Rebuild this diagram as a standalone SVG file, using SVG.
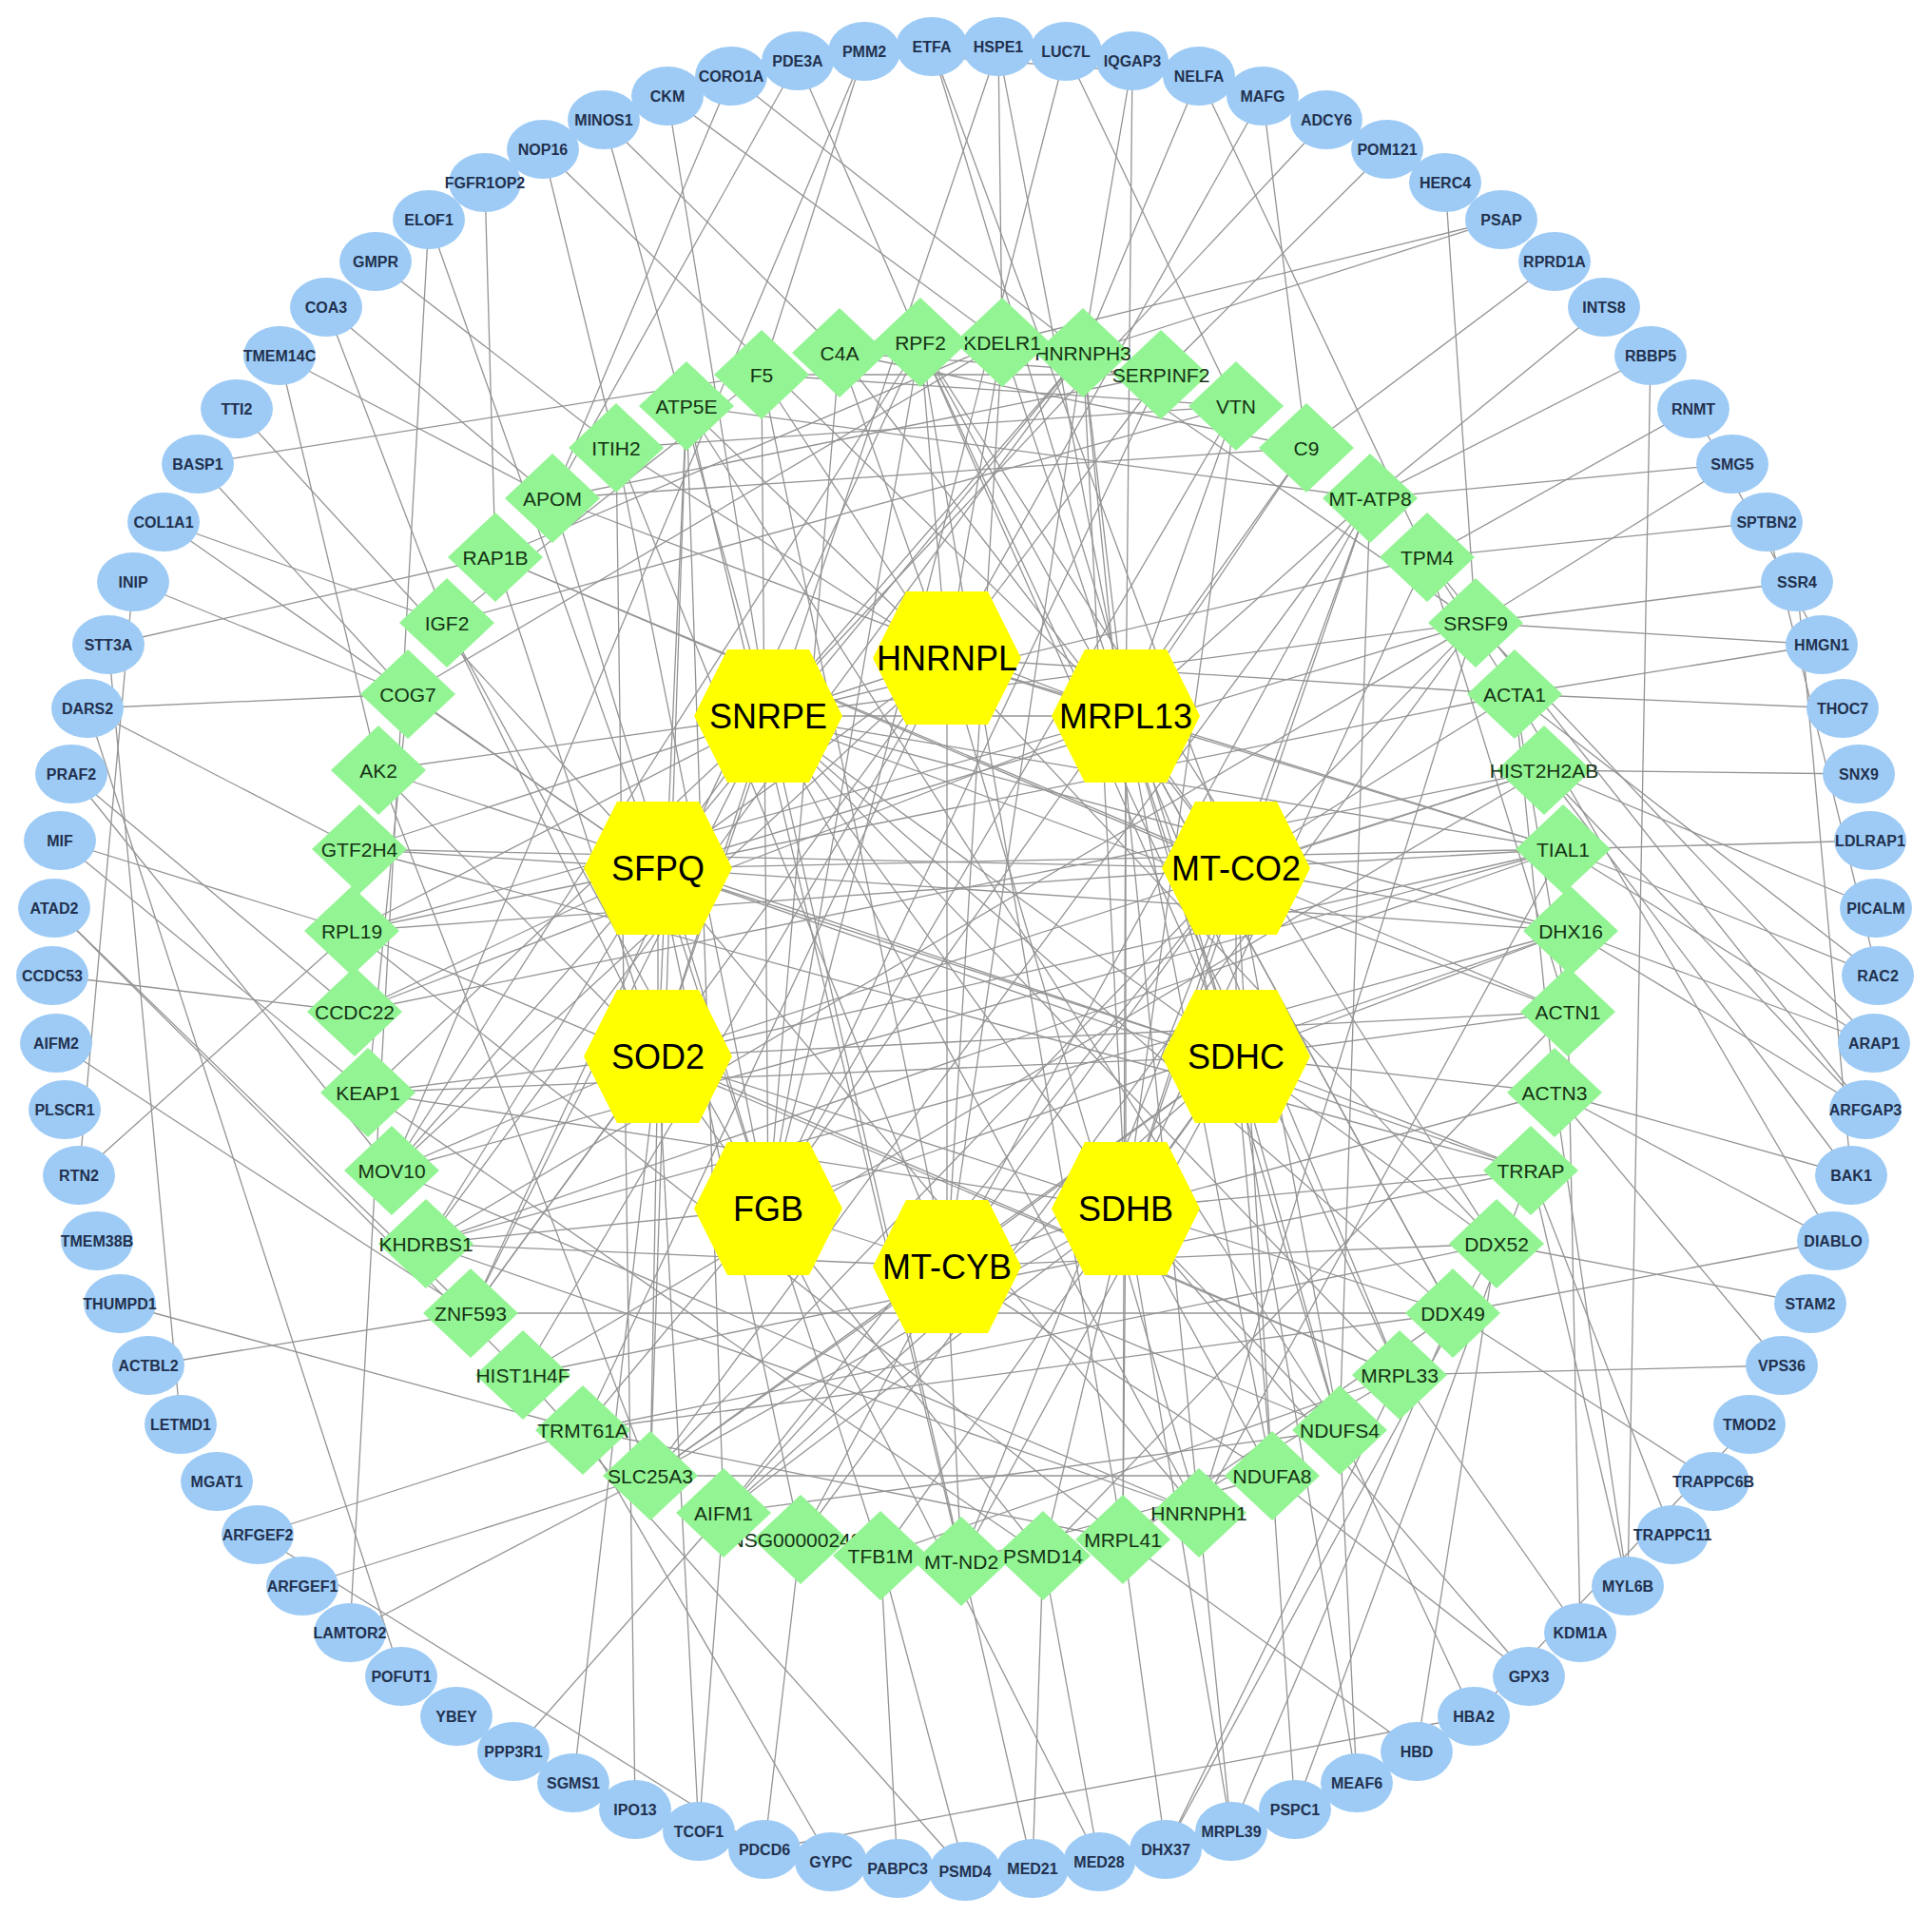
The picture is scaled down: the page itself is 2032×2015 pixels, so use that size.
<svg xmlns="http://www.w3.org/2000/svg" xmlns:xlink="http://www.w3.org/1999/xlink" width="2032" height="2015" viewBox="0 0 2032 2015">
<style>
.e line{stroke:#949494;stroke-width:1.3}
.b ellipse{fill:#9dcbf5}
.b text{font-family:"Liberation Sans",Arial,sans-serif;font-size:16px;font-weight:bold;fill:#22314f;text-anchor:middle;dominant-baseline:central}
.g use{fill:#93f493}
.g text{font-family:"Liberation Sans",Arial,sans-serif;font-size:21px;fill:#143314;text-anchor:middle;dominant-baseline:central}
.y use{fill:#ffff00}
.y text{font-family:"Liberation Sans",Arial,sans-serif;font-size:36px;fill:#000;text-anchor:middle;dominant-baseline:central}
</style>
<defs>
<polygon id="dia" points="0,-47 50,0 0,47 -50,0"/>
<polygon id="hex" points="-78,0 -43,-70 43,-70 78,0 43,70 -43,70"/>
</defs>
<rect width="2032" height="2015" fill="#fff"/>
<g id="connectors" class="e">
<line x1="996" y1="692" x2="808" y2="753"/><line x1="996" y1="692" x2="1184" y2="753"/><line x1="996" y1="692" x2="692" y2="913"/><line x1="808" y1="753" x2="692" y2="913"/><line x1="692" y1="913" x2="692" y2="1111"/><line x1="692" y1="1111" x2="808" y2="1271"/><line x1="808" y1="1271" x2="996" y2="1332"/><line x1="996" y1="1332" x2="1184" y2="1271"/><line x1="1184" y1="1271" x2="1300" y2="1111"/><line x1="1300" y1="1111" x2="1300" y2="913"/><line x1="1300" y1="913" x2="1184" y2="753"/><line x1="1184" y1="753" x2="1184" y2="1271"/><line x1="1300" y1="913" x2="1184" y2="1271"/><line x1="1300" y1="1111" x2="996" y2="1332"/><line x1="1300" y1="913" x2="996" y2="1332"/><line x1="808" y1="753" x2="1184" y2="753"/><line x1="808" y1="1271" x2="692" y2="913"/><line x1="692" y1="1111" x2="808" y2="753"/><line x1="1300" y1="1111" x2="1184" y2="753"/><line x1="996" y1="692" x2="996" y2="1332"/><line x1="692" y1="913" x2="1300" y2="1111"/><line x1="808" y1="753" x2="1184" y2="1271"/>
<line x1="996" y1="692" x2="968" y2="360"/><line x1="996" y1="692" x2="1054" y2="360"/><line x1="996" y1="692" x2="883" y2="371"/><line x1="996" y1="692" x2="801" y2="394"/><line x1="996" y1="692" x2="722" y2="427"/><line x1="996" y1="692" x2="1221" y2="394"/><line x1="996" y1="692" x2="648" y2="471"/><line x1="996" y1="692" x2="1644" y2="893"/><line x1="996" y1="692" x2="550" y2="1446"/><line x1="996" y1="692" x2="613" y2="1504"/><line x1="996" y1="692" x2="495" y2="1381"/><line x1="996" y1="692" x2="1574" y2="1308"/><line x1="996" y1="692" x2="412" y2="1231"/><line x1="996" y1="692" x2="1593" y2="730"/><line x1="996" y1="692" x2="378" y2="893"/><line x1="996" y1="692" x2="1261" y2="1591"/>
<line x1="1184" y1="753" x2="1054" y2="360"/><line x1="1184" y1="753" x2="1139" y2="371"/><line x1="1184" y1="753" x2="1300" y2="427"/><line x1="1184" y1="753" x2="1472" y2="1446"/><line x1="1184" y1="753" x2="1181" y2="1619"/><line x1="1184" y1="753" x2="1409" y2="1504"/><line x1="1184" y1="753" x2="1338" y2="1552"/><line x1="1184" y1="753" x2="370" y2="979"/><line x1="1184" y1="753" x2="1528" y2="1381"/><line x1="1184" y1="753" x2="1644" y2="893"/><line x1="1184" y1="753" x2="1374" y2="471"/><line x1="1184" y1="753" x2="581" y2="524"/><line x1="1184" y1="753" x2="1441" y2="524"/><line x1="1184" y1="753" x2="373" y2="1064"/>
<line x1="1300" y1="913" x2="1552" y2="655"/><line x1="1300" y1="913" x2="1593" y2="730"/><line x1="1300" y1="913" x2="1624" y2="810"/><line x1="1300" y1="913" x2="1644" y2="893"/><line x1="1300" y1="913" x2="1652" y2="979"/><line x1="1300" y1="913" x2="1338" y2="1552"/><line x1="1300" y1="913" x2="1409" y2="1504"/><line x1="1300" y1="913" x2="1011" y2="1642"/><line x1="1300" y1="913" x2="1441" y2="524"/><line x1="1300" y1="913" x2="684" y2="1552"/><line x1="1300" y1="913" x2="761" y2="1591"/><line x1="1300" y1="913" x2="370" y2="979"/><line x1="1300" y1="913" x2="378" y2="893"/><line x1="1300" y1="913" x2="521" y2="586"/><line x1="1300" y1="913" x2="883" y2="371"/>
<line x1="1300" y1="1111" x2="1338" y2="1552"/><line x1="1300" y1="1111" x2="1409" y2="1504"/><line x1="1300" y1="1111" x2="1011" y2="1642"/><line x1="1300" y1="1111" x2="684" y2="1552"/><line x1="1300" y1="1111" x2="761" y2="1591"/><line x1="1300" y1="1111" x2="926" y2="1636"/><line x1="1300" y1="1111" x2="1652" y2="979"/><line x1="1300" y1="1111" x2="1649" y2="1064"/><line x1="1300" y1="1111" x2="1635" y2="1149"/><line x1="1300" y1="1111" x2="968" y2="360"/><line x1="1300" y1="1111" x2="398" y2="810"/><line x1="1300" y1="1111" x2="387" y2="1149"/><line x1="1300" y1="1111" x2="1610" y2="1231"/>
<line x1="1184" y1="1271" x2="1409" y2="1504"/><line x1="1184" y1="1271" x2="1338" y2="1552"/><line x1="1184" y1="1271" x2="684" y2="1552"/><line x1="1184" y1="1271" x2="761" y2="1591"/><line x1="1184" y1="1271" x2="1181" y2="1619"/><line x1="1184" y1="1271" x2="1441" y2="524"/><line x1="1184" y1="1271" x2="1501" y2="586"/><line x1="1184" y1="1271" x2="387" y2="1149"/><line x1="1184" y1="1271" x2="1635" y2="1149"/><line x1="1184" y1="1271" x2="1610" y2="1231"/><line x1="1184" y1="1271" x2="1139" y2="371"/><line x1="1184" y1="1271" x2="1300" y2="427"/><line x1="1184" y1="1271" x2="1097" y2="1636"/>
<line x1="996" y1="1332" x2="1011" y2="1642"/><line x1="996" y1="1332" x2="1338" y2="1552"/><line x1="996" y1="1332" x2="1409" y2="1504"/><line x1="996" y1="1332" x2="761" y2="1591"/><line x1="996" y1="1332" x2="684" y2="1552"/><line x1="996" y1="1332" x2="1441" y2="524"/><line x1="996" y1="1332" x2="1054" y2="360"/><line x1="996" y1="1332" x2="801" y2="394"/><line x1="996" y1="1332" x2="1139" y2="371"/><line x1="996" y1="1332" x2="842" y2="1619"/><line x1="996" y1="1332" x2="448" y2="1308"/><line x1="996" y1="1332" x2="1574" y2="1308"/><line x1="996" y1="1332" x2="648" y2="471"/>
<line x1="808" y1="1271" x2="801" y2="394"/><line x1="808" y1="1271" x2="883" y2="371"/><line x1="808" y1="1271" x2="1374" y2="471"/><line x1="808" y1="1271" x2="1300" y2="427"/><line x1="808" y1="1271" x2="1221" y2="394"/><line x1="808" y1="1271" x2="648" y2="471"/><line x1="808" y1="1271" x2="581" y2="524"/><line x1="808" y1="1271" x2="470" y2="655"/><line x1="808" y1="1271" x2="448" y2="1308"/><line x1="808" y1="1271" x2="613" y2="1504"/><line x1="808" y1="1271" x2="1097" y2="1636"/><line x1="808" y1="1271" x2="926" y2="1636"/><line x1="808" y1="1271" x2="968" y2="360"/><line x1="808" y1="1271" x2="1652" y2="979"/>
<line x1="692" y1="1111" x2="387" y2="1149"/><line x1="692" y1="1111" x2="470" y2="655"/><line x1="692" y1="1111" x2="521" y2="586"/><line x1="692" y1="1111" x2="398" y2="810"/><line x1="692" y1="1111" x2="684" y2="1552"/><line x1="692" y1="1111" x2="1649" y2="1064"/><line x1="692" y1="1111" x2="1644" y2="893"/><line x1="692" y1="1111" x2="1624" y2="810"/><line x1="692" y1="1111" x2="1528" y2="1381"/><line x1="692" y1="1111" x2="1472" y2="1446"/><line x1="692" y1="1111" x2="495" y2="1381"/><line x1="692" y1="1111" x2="722" y2="427"/><line x1="692" y1="1111" x2="412" y2="1231"/>
<line x1="692" y1="913" x2="1261" y2="1591"/><line x1="692" y1="913" x2="1139" y2="371"/><line x1="692" y1="913" x2="1552" y2="655"/><line x1="692" y1="913" x2="1644" y2="893"/><line x1="692" y1="913" x2="448" y2="1308"/><line x1="692" y1="913" x2="1652" y2="979"/><line x1="692" y1="913" x2="1610" y2="1231"/><line x1="692" y1="913" x2="412" y2="1231"/><line x1="692" y1="913" x2="429" y2="730"/><line x1="692" y1="913" x2="378" y2="893"/><line x1="692" y1="913" x2="370" y2="979"/><line x1="692" y1="913" x2="373" y2="1064"/><line x1="692" y1="913" x2="1593" y2="730"/><line x1="692" y1="913" x2="842" y2="1619"/>
<line x1="808" y1="753" x2="1552" y2="655"/><line x1="808" y1="753" x2="1261" y2="1591"/><line x1="808" y1="753" x2="1139" y2="371"/><line x1="808" y1="753" x2="1644" y2="893"/><line x1="808" y1="753" x2="1652" y2="979"/><line x1="808" y1="753" x2="1574" y2="1308"/><line x1="808" y1="753" x2="1528" y2="1381"/><line x1="808" y1="753" x2="370" y2="979"/><line x1="808" y1="753" x2="1472" y2="1446"/><line x1="808" y1="753" x2="495" y2="1381"/><line x1="808" y1="753" x2="387" y2="1149"/><line x1="808" y1="753" x2="1501" y2="586"/><line x1="808" y1="753" x2="1649" y2="1064"/><line x1="808" y1="753" x2="398" y2="810"/>
<line x1="1593" y1="730" x2="1649" y2="1064"/><line x1="1593" y1="730" x2="1635" y2="1149"/><line x1="1593" y1="730" x2="1501" y2="586"/><line x1="1501" y1="586" x2="1649" y2="1064"/><line x1="387" y1="1149" x2="429" y2="730"/><line x1="1011" y1="1642" x2="1338" y2="1552"/><line x1="1441" y1="524" x2="1409" y2="1504"/><line x1="1441" y1="524" x2="684" y2="1552"/><line x1="684" y1="1552" x2="1338" y2="1552"/><line x1="761" y1="1591" x2="1409" y2="1504"/><line x1="801" y1="394" x2="1300" y2="427"/><line x1="801" y1="394" x2="1221" y2="394"/><line x1="1374" y1="471" x2="883" y2="371"/><line x1="883" y1="371" x2="1221" y2="394"/><line x1="648" y1="471" x2="1300" y2="427"/><line x1="581" y1="524" x2="1221" y2="394"/><line x1="470" y1="655" x2="801" y2="394"/><line x1="470" y1="655" x2="1300" y2="427"/><line x1="1261" y1="1591" x2="1139" y2="371"/><line x1="1261" y1="1591" x2="1552" y2="655"/><line x1="1139" y1="371" x2="1552" y2="655"/><line x1="448" y1="1308" x2="1552" y2="655"/><line x1="448" y1="1308" x2="1261" y2="1591"/><line x1="1644" y1="893" x2="1261" y2="1591"/><line x1="1644" y1="893" x2="448" y2="1308"/><line x1="1652" y1="979" x2="448" y2="1308"/><line x1="1574" y1="1308" x2="968" y2="360"/><line x1="1528" y1="1381" x2="968" y2="360"/><line x1="1472" y1="1446" x2="1181" y2="1619"/><line x1="1181" y1="1619" x2="968" y2="360"/><line x1="1472" y1="1446" x2="968" y2="360"/><line x1="926" y1="1636" x2="1472" y2="1446"/><line x1="495" y1="1381" x2="1528" y2="1381"/><line x1="495" y1="1381" x2="968" y2="360"/><line x1="613" y1="1504" x2="1181" y2="1619"/><line x1="613" y1="1504" x2="1574" y2="1308"/><line x1="550" y1="1446" x2="1624" y2="810"/><line x1="550" y1="1446" x2="1610" y2="1231"/><line x1="1054" y1="360" x2="521" y2="586"/><line x1="1054" y1="360" x2="429" y2="730"/><line x1="412" y1="1231" x2="1261" y2="1591"/><line x1="412" y1="1231" x2="1644" y2="893"/><line x1="370" y1="979" x2="1181" y2="1619"/><line x1="370" y1="979" x2="1472" y2="1446"/><line x1="378" y1="893" x2="1610" y2="1231"/><line x1="373" y1="1064" x2="1624" y2="810"/><line x1="398" y1="810" x2="684" y2="1552"/><line x1="1097" y1="1636" x2="387" y2="1149"/><line x1="1097" y1="1636" x2="1649" y2="1064"/><line x1="842" y1="1619" x2="1552" y2="655"/><line x1="521" y1="586" x2="1649" y2="1064"/><line x1="722" y1="427" x2="1011" y2="1642"/><line x1="722" y1="427" x2="1409" y2="1504"/><line x1="722" y1="427" x2="684" y2="1552"/><line x1="722" y1="427" x2="761" y2="1591"/><line x1="722" y1="427" x2="1441" y2="524"/><line x1="613" y1="1504" x2="1528" y2="1381"/><line x1="1528" y1="1381" x2="1181" y2="1619"/><line x1="1374" y1="471" x2="581" y2="524"/><line x1="968" y1="360" x2="412" y2="1231"/><line x1="1139" y1="371" x2="448" y2="1308"/>
<line x1="980" y1="49" x2="1300" y2="913"/><line x1="980" y1="49" x2="1300" y2="1111"/><line x1="1050" y1="49" x2="1054" y2="360"/><line x1="1050" y1="49" x2="1184" y2="753"/><line x1="1050" y1="49" x2="692" y2="1111"/><line x1="1121" y1="54" x2="1300" y2="427"/><line x1="1121" y1="54" x2="808" y2="1271"/><line x1="1191" y1="64" x2="1184" y2="753"/><line x1="1191" y1="64" x2="1139" y2="371"/><line x1="1261" y1="80" x2="909" y2="54"/><line x1="1261" y1="80" x2="1139" y2="371"/><line x1="1261" y1="80" x2="1501" y2="586"/><line x1="1328" y1="101" x2="1374" y2="471"/><line x1="1328" y1="101" x2="996" y2="692"/><line x1="1395" y1="126" x2="808" y2="753"/><line x1="1459" y1="157" x2="1221" y2="394"/><line x1="1520" y1="192" x2="1552" y2="655"/><line x1="1579" y1="231" x2="1139" y2="371"/><line x1="1579" y1="231" x2="1054" y2="360"/><line x1="1635" y1="275" x2="1374" y2="471"/><line x1="1687" y1="323" x2="1441" y2="524"/><line x1="1736" y1="374" x2="1441" y2="524"/><line x1="1736" y1="374" x2="1712" y2="1668"/><line x1="1781" y1="430" x2="1501" y2="586"/><line x1="1781" y1="430" x2="1916" y2="678"/><line x1="1822" y1="488" x2="1441" y2="524"/><line x1="1822" y1="488" x2="1552" y2="655"/><line x1="1858" y1="549" x2="1501" y2="586"/><line x1="1858" y1="549" x2="1975" y2="1026"/><line x1="1890" y1="612" x2="1552" y2="655"/><line x1="1890" y1="612" x2="1947" y2="1236"/><line x1="1916" y1="678" x2="1552" y2="655"/><line x1="1916" y1="678" x2="1593" y2="730"/><line x1="1938" y1="745" x2="1593" y2="730"/><line x1="1955" y1="814" x2="1624" y2="810"/><line x1="1967" y1="884" x2="1644" y2="893"/><line x1="1973" y1="955" x2="1624" y2="810"/><line x1="1975" y1="1026" x2="1593" y2="730"/><line x1="1975" y1="1026" x2="1644" y2="893"/><line x1="1971" y1="1097" x2="1644" y2="893"/><line x1="1971" y1="1097" x2="1652" y2="979"/><line x1="1971" y1="1097" x2="1552" y2="655"/><line x1="1962" y1="1167" x2="1624" y2="810"/><line x1="1962" y1="1167" x2="1652" y2="979"/><line x1="1962" y1="1167" x2="1501" y2="586"/><line x1="1947" y1="1236" x2="1635" y2="1149"/><line x1="1947" y1="1236" x2="1624" y2="810"/><line x1="1928" y1="1305" x2="1528" y2="1381"/><line x1="1928" y1="1305" x2="1635" y2="1149"/><line x1="1928" y1="1305" x2="1593" y2="730"/><line x1="1904" y1="1371" x2="1574" y2="1308"/><line x1="1874" y1="1436" x2="1472" y2="1446"/><line x1="1874" y1="1436" x2="1635" y2="1149"/><line x1="1840" y1="1498" x2="1550" y2="1805"/><line x1="1802" y1="1558" x2="1528" y2="1381"/><line x1="1759" y1="1614" x2="1610" y2="1231"/><line x1="1712" y1="1668" x2="1635" y2="1149"/><line x1="1712" y1="1668" x2="1610" y2="1231"/><line x1="1662" y1="1717" x2="1649" y2="1064"/><line x1="1662" y1="1717" x2="1472" y2="1446"/><line x1="1608" y1="1763" x2="1338" y2="1552"/><line x1="1608" y1="1763" x2="1184" y2="1271"/><line x1="1550" y1="1805" x2="1409" y2="1504"/><line x1="1550" y1="1805" x2="804" y2="1945"/><line x1="1490" y1="1842" x2="1181" y2="1619"/><line x1="1490" y1="1842" x2="1574" y2="1308"/><line x1="1427" y1="1875" x2="1409" y2="1504"/><line x1="1427" y1="1875" x2="1300" y2="1111"/><line x1="1362" y1="1903" x2="1338" y2="1552"/><line x1="1362" y1="1903" x2="1610" y2="1231"/><line x1="1295" y1="1926" x2="1261" y2="1591"/><line x1="1295" y1="1926" x2="1528" y2="1381"/><line x1="1295" y1="1926" x2="1184" y2="1271"/><line x1="1226" y1="1945" x2="1181" y2="1619"/><line x1="1226" y1="1945" x2="1472" y2="1446"/><line x1="1226" y1="1945" x2="1574" y2="1308"/><line x1="1156" y1="1958" x2="1097" y2="1636"/><line x1="1156" y1="1958" x2="808" y2="1271"/><line x1="1086" y1="1965" x2="808" y2="753"/><line x1="1086" y1="1965" x2="1097" y2="1636"/><line x1="1015" y1="1968" x2="550" y2="1446"/><line x1="1015" y1="1968" x2="926" y2="1636"/><line x1="944" y1="1965" x2="926" y2="1636"/><line x1="874" y1="1958" x2="613" y2="1504"/><line x1="804" y1="1945" x2="842" y2="1619"/><line x1="804" y1="1945" x2="271" y2="1614"/><line x1="735" y1="1926" x2="692" y2="1111"/><line x1="735" y1="1926" x2="761" y2="1591"/><line x1="668" y1="1903" x2="648" y2="471"/><line x1="603" y1="1875" x2="692" y2="1111"/><line x1="540" y1="1842" x2="761" y2="1591"/><line x1="422" y1="1763" x2="92" y2="745"/><line x1="368" y1="1717" x2="451" y2="231"/><line x1="368" y1="1717" x2="684" y2="1552"/><line x1="318" y1="1668" x2="684" y2="1552"/><line x1="271" y1="1614" x2="613" y2="1504"/><line x1="190" y1="1498" x2="114" y2="678"/><line x1="156" y1="1436" x2="495" y2="1381"/><line x1="126" y1="1371" x2="613" y2="1504"/><line x1="83" y1="1236" x2="140" y2="612"/><line x1="83" y1="1236" x2="370" y2="979"/><line x1="59" y1="1097" x2="495" y2="1381"/><line x1="55" y1="1026" x2="373" y2="1064"/><line x1="57" y1="955" x2="495" y2="1381"/><line x1="57" y1="955" x2="550" y2="1446"/><line x1="63" y1="884" x2="370" y2="979"/><line x1="63" y1="884" x2="387" y2="1149"/><line x1="75" y1="814" x2="373" y2="1064"/><line x1="75" y1="814" x2="412" y2="1231"/><line x1="92" y1="745" x2="429" y2="730"/><line x1="92" y1="745" x2="378" y2="893"/><line x1="114" y1="678" x2="521" y2="586"/><line x1="140" y1="612" x2="429" y2="730"/><line x1="172" y1="549" x2="470" y2="655"/><line x1="172" y1="549" x2="692" y2="913"/><line x1="208" y1="488" x2="801" y2="394"/><line x1="208" y1="488" x2="429" y2="730"/><line x1="249" y1="430" x2="692" y2="913"/><line x1="294" y1="374" x2="581" y2="524"/><line x1="294" y1="374" x2="398" y2="810"/><line x1="343" y1="323" x2="581" y2="524"/><line x1="343" y1="323" x2="470" y2="655"/><line x1="395" y1="275" x2="648" y2="471"/><line x1="451" y1="231" x2="692" y2="913"/><line x1="510" y1="192" x2="521" y2="586"/><line x1="571" y1="157" x2="648" y2="471"/><line x1="571" y1="157" x2="1184" y2="753"/><line x1="635" y1="126" x2="808" y2="753"/><line x1="635" y1="126" x2="883" y2="371"/><line x1="702" y1="101" x2="1054" y2="360"/><line x1="702" y1="101" x2="808" y2="753"/><line x1="769" y1="80" x2="1139" y2="371"/><line x1="769" y1="80" x2="581" y2="524"/><line x1="839" y1="64" x2="581" y2="524"/><line x1="839" y1="64" x2="968" y2="360"/><line x1="909" y1="54" x2="412" y2="1231"/><line x1="909" y1="54" x2="801" y2="394"/>
</g>
<g id="nodes-outer" class="b">
<g id="n-ETFA"><ellipse cx="980" cy="49" rx="38" ry="31"/><text x="980" y="49">ETFA</text></g>
<g id="n-HSPE1"><ellipse cx="1050" cy="49" rx="38" ry="31"/><text x="1050" y="49">HSPE1</text></g>
<g id="n-LUC7L"><ellipse cx="1121" cy="54" rx="38" ry="31"/><text x="1121" y="54">LUC7L</text></g>
<g id="n-IQGAP3"><ellipse cx="1191" cy="64" rx="38" ry="31"/><text x="1191" y="64">IQGAP3</text></g>
<g id="n-NELFA"><ellipse cx="1261" cy="80" rx="38" ry="31"/><text x="1261" y="80">NELFA</text></g>
<g id="n-MAFG"><ellipse cx="1328" cy="101" rx="38" ry="31"/><text x="1328" y="101">MAFG</text></g>
<g id="n-ADCY6"><ellipse cx="1395" cy="126" rx="38" ry="31"/><text x="1395" y="126">ADCY6</text></g>
<g id="n-POM121"><ellipse cx="1459" cy="157" rx="38" ry="31"/><text x="1459" y="157">POM121</text></g>
<g id="n-HERC4"><ellipse cx="1520" cy="192" rx="38" ry="31"/><text x="1520" y="192">HERC4</text></g>
<g id="n-PSAP"><ellipse cx="1579" cy="231" rx="38" ry="31"/><text x="1579" y="231">PSAP</text></g>
<g id="n-RPRD1A"><ellipse cx="1635" cy="275" rx="38" ry="31"/><text x="1635" y="275">RPRD1A</text></g>
<g id="n-INTS8"><ellipse cx="1687" cy="323" rx="38" ry="31"/><text x="1687" y="323">INTS8</text></g>
<g id="n-RBBP5"><ellipse cx="1736" cy="374" rx="38" ry="31"/><text x="1736" y="374">RBBP5</text></g>
<g id="n-RNMT"><ellipse cx="1781" cy="430" rx="38" ry="31"/><text x="1781" y="430">RNMT</text></g>
<g id="n-SMG5"><ellipse cx="1822" cy="488" rx="38" ry="31"/><text x="1822" y="488">SMG5</text></g>
<g id="n-SPTBN2"><ellipse cx="1858" cy="549" rx="38" ry="31"/><text x="1858" y="549">SPTBN2</text></g>
<g id="n-SSR4"><ellipse cx="1890" cy="612" rx="38" ry="31"/><text x="1890" y="612">SSR4</text></g>
<g id="n-HMGN1"><ellipse cx="1916" cy="678" rx="38" ry="31"/><text x="1916" y="678">HMGN1</text></g>
<g id="n-THOC7"><ellipse cx="1938" cy="745" rx="38" ry="31"/><text x="1938" y="745">THOC7</text></g>
<g id="n-SNX9"><ellipse cx="1955" cy="814" rx="38" ry="31"/><text x="1955" y="814">SNX9</text></g>
<g id="n-LDLRAP1"><ellipse cx="1967" cy="884" rx="38" ry="31"/><text x="1967" y="884">LDLRAP1</text></g>
<g id="n-PICALM"><ellipse cx="1973" cy="955" rx="38" ry="31"/><text x="1973" y="955">PICALM</text></g>
<g id="n-RAC2"><ellipse cx="1975" cy="1026" rx="38" ry="31"/><text x="1975" y="1026">RAC2</text></g>
<g id="n-ARAP1"><ellipse cx="1971" cy="1097" rx="38" ry="31"/><text x="1971" y="1097">ARAP1</text></g>
<g id="n-ARFGAP3"><ellipse cx="1962" cy="1167" rx="38" ry="31"/><text x="1962" y="1167">ARFGAP3</text></g>
<g id="n-BAK1"><ellipse cx="1947" cy="1236" rx="38" ry="31"/><text x="1947" y="1236">BAK1</text></g>
<g id="n-DIABLO"><ellipse cx="1928" cy="1305" rx="38" ry="31"/><text x="1928" y="1305">DIABLO</text></g>
<g id="n-STAM2"><ellipse cx="1904" cy="1371" rx="38" ry="31"/><text x="1904" y="1371">STAM2</text></g>
<g id="n-VPS36"><ellipse cx="1874" cy="1436" rx="38" ry="31"/><text x="1874" y="1436">VPS36</text></g>
<g id="n-TMOD2"><ellipse cx="1840" cy="1498" rx="38" ry="31"/><text x="1840" y="1498">TMOD2</text></g>
<g id="n-TRAPPC6B"><ellipse cx="1802" cy="1558" rx="38" ry="31"/><text x="1802" y="1558">TRAPPC6B</text></g>
<g id="n-TRAPPC11"><ellipse cx="1759" cy="1614" rx="38" ry="31"/><text x="1759" y="1614">TRAPPC11</text></g>
<g id="n-MYL6B"><ellipse cx="1712" cy="1668" rx="38" ry="31"/><text x="1712" y="1668">MYL6B</text></g>
<g id="n-KDM1A"><ellipse cx="1662" cy="1717" rx="38" ry="31"/><text x="1662" y="1717">KDM1A</text></g>
<g id="n-GPX3"><ellipse cx="1608" cy="1763" rx="38" ry="31"/><text x="1608" y="1763">GPX3</text></g>
<g id="n-HBA2"><ellipse cx="1550" cy="1805" rx="38" ry="31"/><text x="1550" y="1805">HBA2</text></g>
<g id="n-HBD"><ellipse cx="1490" cy="1842" rx="38" ry="31"/><text x="1490" y="1842">HBD</text></g>
<g id="n-MEAF6"><ellipse cx="1427" cy="1875" rx="38" ry="31"/><text x="1427" y="1875">MEAF6</text></g>
<g id="n-PSPC1"><ellipse cx="1362" cy="1903" rx="38" ry="31"/><text x="1362" y="1903">PSPC1</text></g>
<g id="n-MRPL39"><ellipse cx="1295" cy="1926" rx="38" ry="31"/><text x="1295" y="1926">MRPL39</text></g>
<g id="n-DHX37"><ellipse cx="1226" cy="1945" rx="38" ry="31"/><text x="1226" y="1945">DHX37</text></g>
<g id="n-MED28"><ellipse cx="1156" cy="1958" rx="38" ry="31"/><text x="1156" y="1958">MED28</text></g>
<g id="n-MED21"><ellipse cx="1086" cy="1965" rx="38" ry="31"/><text x="1086" y="1965">MED21</text></g>
<g id="n-PSMD4"><ellipse cx="1015" cy="1968" rx="38" ry="31"/><text x="1015" y="1968">PSMD4</text></g>
<g id="n-PABPC3"><ellipse cx="944" cy="1965" rx="38" ry="31"/><text x="944" y="1965">PABPC3</text></g>
<g id="n-GYPC"><ellipse cx="874" cy="1958" rx="38" ry="31"/><text x="874" y="1958">GYPC</text></g>
<g id="n-PDCD6"><ellipse cx="804" cy="1945" rx="38" ry="31"/><text x="804" y="1945">PDCD6</text></g>
<g id="n-TCOF1"><ellipse cx="735" cy="1926" rx="38" ry="31"/><text x="735" y="1926">TCOF1</text></g>
<g id="n-IPO13"><ellipse cx="668" cy="1903" rx="38" ry="31"/><text x="668" y="1903">IPO13</text></g>
<g id="n-SGMS1"><ellipse cx="603" cy="1875" rx="38" ry="31"/><text x="603" y="1875">SGMS1</text></g>
<g id="n-PPP3R1"><ellipse cx="540" cy="1842" rx="38" ry="31"/><text x="540" y="1842">PPP3R1</text></g>
<g id="n-YBEY"><ellipse cx="480" cy="1805" rx="38" ry="31"/><text x="480" y="1805">YBEY</text></g>
<g id="n-POFUT1"><ellipse cx="422" cy="1763" rx="38" ry="31"/><text x="422" y="1763">POFUT1</text></g>
<g id="n-LAMTOR2"><ellipse cx="368" cy="1717" rx="38" ry="31"/><text x="368" y="1717">LAMTOR2</text></g>
<g id="n-ARFGEF1"><ellipse cx="318" cy="1668" rx="38" ry="31"/><text x="318" y="1668">ARFGEF1</text></g>
<g id="n-ARFGEF2"><ellipse cx="271" cy="1614" rx="38" ry="31"/><text x="271" y="1614">ARFGEF2</text></g>
<g id="n-MGAT1"><ellipse cx="228" cy="1558" rx="38" ry="31"/><text x="228" y="1558">MGAT1</text></g>
<g id="n-LETMD1"><ellipse cx="190" cy="1498" rx="38" ry="31"/><text x="190" y="1498">LETMD1</text></g>
<g id="n-ACTBL2"><ellipse cx="156" cy="1436" rx="38" ry="31"/><text x="156" y="1436">ACTBL2</text></g>
<g id="n-THUMPD1"><ellipse cx="126" cy="1371" rx="38" ry="31"/><text x="126" y="1371">THUMPD1</text></g>
<g id="n-TMEM38B"><ellipse cx="102" cy="1305" rx="38" ry="31"/><text x="102" y="1305">TMEM38B</text></g>
<g id="n-RTN2"><ellipse cx="83" cy="1236" rx="38" ry="31"/><text x="83" y="1236">RTN2</text></g>
<g id="n-PLSCR1"><ellipse cx="68" cy="1167" rx="38" ry="31"/><text x="68" y="1167">PLSCR1</text></g>
<g id="n-AIFM2"><ellipse cx="59" cy="1097" rx="38" ry="31"/><text x="59" y="1097">AIFM2</text></g>
<g id="n-CCDC53"><ellipse cx="55" cy="1026" rx="38" ry="31"/><text x="55" y="1026">CCDC53</text></g>
<g id="n-ATAD2"><ellipse cx="57" cy="955" rx="38" ry="31"/><text x="57" y="955">ATAD2</text></g>
<g id="n-MIF"><ellipse cx="63" cy="884" rx="38" ry="31"/><text x="63" y="884">MIF</text></g>
<g id="n-PRAF2"><ellipse cx="75" cy="814" rx="38" ry="31"/><text x="75" y="814">PRAF2</text></g>
<g id="n-DARS2"><ellipse cx="92" cy="745" rx="38" ry="31"/><text x="92" y="745">DARS2</text></g>
<g id="n-STT3A"><ellipse cx="114" cy="678" rx="38" ry="31"/><text x="114" y="678">STT3A</text></g>
<g id="n-INIP"><ellipse cx="140" cy="612" rx="38" ry="31"/><text x="140" y="612">INIP</text></g>
<g id="n-COL1A1"><ellipse cx="172" cy="549" rx="38" ry="31"/><text x="172" y="549">COL1A1</text></g>
<g id="n-BASP1"><ellipse cx="208" cy="488" rx="38" ry="31"/><text x="208" y="488">BASP1</text></g>
<g id="n-TTI2"><ellipse cx="249" cy="430" rx="38" ry="31"/><text x="249" y="430">TTI2</text></g>
<g id="n-TMEM14C"><ellipse cx="294" cy="374" rx="38" ry="31"/><text x="294" y="374">TMEM14C</text></g>
<g id="n-COA3"><ellipse cx="343" cy="323" rx="38" ry="31"/><text x="343" y="323">COA3</text></g>
<g id="n-GMPR"><ellipse cx="395" cy="275" rx="38" ry="31"/><text x="395" y="275">GMPR</text></g>
<g id="n-ELOF1"><ellipse cx="451" cy="231" rx="38" ry="31"/><text x="451" y="231">ELOF1</text></g>
<g id="n-FGFR1OP2"><ellipse cx="510" cy="192" rx="38" ry="31"/><text x="510" y="192">FGFR1OP2</text></g>
<g id="n-NOP16"><ellipse cx="571" cy="157" rx="38" ry="31"/><text x="571" y="157">NOP16</text></g>
<g id="n-MINOS1"><ellipse cx="635" cy="126" rx="38" ry="31"/><text x="635" y="126">MINOS1</text></g>
<g id="n-CKM"><ellipse cx="702" cy="101" rx="38" ry="31"/><text x="702" y="101">CKM</text></g>
<g id="n-CORO1A"><ellipse cx="769" cy="80" rx="38" ry="31"/><text x="769" y="80">CORO1A</text></g>
<g id="n-PDE3A"><ellipse cx="839" cy="64" rx="38" ry="31"/><text x="839" y="64">PDE3A</text></g>
<g id="n-PMM2"><ellipse cx="909" cy="54" rx="38" ry="31"/><text x="909" y="54">PMM2</text></g>
</g>
<g id="nodes-middle" class="g">
<g id="n-HNRNPH3"><use xlink:href="#dia" x="1139" y="371"/><text x="1139" y="371">HNRNPH3</text></g>
<g id="n-KDELR1"><use xlink:href="#dia" x="1054" y="360"/><text x="1054" y="360">KDELR1</text></g>
<g id="n-SERPINF2"><use xlink:href="#dia" x="1221" y="394"/><text x="1221" y="394">SERPINF2</text></g>
<g id="n-VTN"><use xlink:href="#dia" x="1300" y="427"/><text x="1300" y="427">VTN</text></g>
<g id="n-C9"><use xlink:href="#dia" x="1374" y="471"/><text x="1374" y="471">C9</text></g>
<g id="n-MT-ATP8"><use xlink:href="#dia" x="1441" y="524"/><text x="1441" y="524">MT-ATP8</text></g>
<g id="n-TPM4"><use xlink:href="#dia" x="1501" y="586"/><text x="1501" y="586">TPM4</text></g>
<g id="n-SRSF9"><use xlink:href="#dia" x="1552" y="655"/><text x="1552" y="655">SRSF9</text></g>
<g id="n-ACTA1"><use xlink:href="#dia" x="1593" y="730"/><text x="1593" y="730">ACTA1</text></g>
<g id="n-HIST2H2AB"><use xlink:href="#dia" x="1624" y="810"/><text x="1624" y="810">HIST2H2AB</text></g>
<g id="n-TIAL1"><use xlink:href="#dia" x="1644" y="893"/><text x="1644" y="893">TIAL1</text></g>
<g id="n-DHX16"><use xlink:href="#dia" x="1652" y="979"/><text x="1652" y="979">DHX16</text></g>
<g id="n-ACTN1"><use xlink:href="#dia" x="1649" y="1064"/><text x="1649" y="1064">ACTN1</text></g>
<g id="n-ACTN3"><use xlink:href="#dia" x="1635" y="1149"/><text x="1635" y="1149">ACTN3</text></g>
<g id="n-TRRAP"><use xlink:href="#dia" x="1610" y="1231"/><text x="1610" y="1231">TRRAP</text></g>
<g id="n-DDX52"><use xlink:href="#dia" x="1574" y="1308"/><text x="1574" y="1308">DDX52</text></g>
<g id="n-DDX49"><use xlink:href="#dia" x="1528" y="1381"/><text x="1528" y="1381">DDX49</text></g>
<g id="n-MRPL33"><use xlink:href="#dia" x="1472" y="1446"/><text x="1472" y="1446">MRPL33</text></g>
<g id="n-NDUFS4"><use xlink:href="#dia" x="1409" y="1504"/><text x="1409" y="1504">NDUFS4</text></g>
<g id="n-NDUFA8"><use xlink:href="#dia" x="1338" y="1552"/><text x="1338" y="1552">NDUFA8</text></g>
<g id="n-HNRNPH1"><use xlink:href="#dia" x="1261" y="1591"/><text x="1261" y="1591">HNRNPH1</text></g>
<g id="n-MRPL41"><use xlink:href="#dia" x="1181" y="1619"/><text x="1181" y="1619">MRPL41</text></g>
<g id="n-MT-ND2"><use xlink:href="#dia" x="1011" y="1642"/><text x="1011" y="1642">MT-ND2</text></g>
<g id="n-PSMD14"><use xlink:href="#dia" x="1097" y="1636"/><text x="1097" y="1636">PSMD14</text></g>
<g id="n-ENSG00000249"><use xlink:href="#dia" x="842" y="1619"/><text x="830" y="1619">ENSG00000249</text></g>
<g id="n-TFB1M"><use xlink:href="#dia" x="926" y="1636"/><text x="926" y="1636">TFB1M</text></g>
<g id="n-AIFM1"><use xlink:href="#dia" x="761" y="1591"/><text x="761" y="1591">AIFM1</text></g>
<g id="n-SLC25A3"><use xlink:href="#dia" x="684" y="1552"/><text x="684" y="1552">SLC25A3</text></g>
<g id="n-TRMT61A"><use xlink:href="#dia" x="613" y="1504"/><text x="613" y="1504">TRMT61A</text></g>
<g id="n-HIST1H4F"><use xlink:href="#dia" x="550" y="1446"/><text x="550" y="1446">HIST1H4F</text></g>
<g id="n-ZNF593"><use xlink:href="#dia" x="495" y="1381"/><text x="495" y="1381">ZNF593</text></g>
<g id="n-KHDRBS1"><use xlink:href="#dia" x="448" y="1308"/><text x="448" y="1308">KHDRBS1</text></g>
<g id="n-MOV10"><use xlink:href="#dia" x="412" y="1231"/><text x="412" y="1231">MOV10</text></g>
<g id="n-KEAP1"><use xlink:href="#dia" x="387" y="1149"/><text x="387" y="1149">KEAP1</text></g>
<g id="n-CCDC22"><use xlink:href="#dia" x="373" y="1064"/><text x="373" y="1064">CCDC22</text></g>
<g id="n-RPL19"><use xlink:href="#dia" x="370" y="979"/><text x="370" y="979">RPL19</text></g>
<g id="n-GTF2H4"><use xlink:href="#dia" x="378" y="893"/><text x="378" y="893">GTF2H4</text></g>
<g id="n-AK2"><use xlink:href="#dia" x="398" y="810"/><text x="398" y="810">AK2</text></g>
<g id="n-COG7"><use xlink:href="#dia" x="429" y="730"/><text x="429" y="730">COG7</text></g>
<g id="n-IGF2"><use xlink:href="#dia" x="470" y="655"/><text x="470" y="655">IGF2</text></g>
<g id="n-RAP1B"><use xlink:href="#dia" x="521" y="586"/><text x="521" y="586">RAP1B</text></g>
<g id="n-APOM"><use xlink:href="#dia" x="581" y="524"/><text x="581" y="524">APOM</text></g>
<g id="n-ITIH2"><use xlink:href="#dia" x="648" y="471"/><text x="648" y="471">ITIH2</text></g>
<g id="n-ATP5E"><use xlink:href="#dia" x="722" y="427"/><text x="722" y="427">ATP5E</text></g>
<g id="n-F5"><use xlink:href="#dia" x="801" y="394"/><text x="801" y="394">F5</text></g>
<g id="n-C4A"><use xlink:href="#dia" x="883" y="371"/><text x="883" y="371">C4A</text></g>
<g id="n-RPF2"><use xlink:href="#dia" x="968" y="360"/><text x="968" y="360">RPF2</text></g>
</g>
<g id="nodes-inner" class="y">
<g id="n-HNRNPL"><use xlink:href="#hex" x="996" y="692"/><text x="996" y="692">HNRNPL</text></g>
<g id="n-MRPL13"><use xlink:href="#hex" x="1184" y="753"/><text x="1184" y="753">MRPL13</text></g>
<g id="n-MT-CO2"><use xlink:href="#hex" x="1300" y="913"/><text x="1300" y="913">MT-CO2</text></g>
<g id="n-SDHC"><use xlink:href="#hex" x="1300" y="1111"/><text x="1300" y="1111">SDHC</text></g>
<g id="n-SDHB"><use xlink:href="#hex" x="1184" y="1271"/><text x="1184" y="1271">SDHB</text></g>
<g id="n-MT-CYB"><use xlink:href="#hex" x="996" y="1332"/><text x="996" y="1332">MT-CYB</text></g>
<g id="n-FGB"><use xlink:href="#hex" x="808" y="1271"/><text x="808" y="1271">FGB</text></g>
<g id="n-SOD2"><use xlink:href="#hex" x="692" y="1111"/><text x="692" y="1111">SOD2</text></g>
<g id="n-SFPQ"><use xlink:href="#hex" x="692" y="913"/><text x="692" y="913">SFPQ</text></g>
<g id="n-SNRPE"><use xlink:href="#hex" x="808" y="753"/><text x="808" y="753">SNRPE</text></g>
</g>
</svg>
